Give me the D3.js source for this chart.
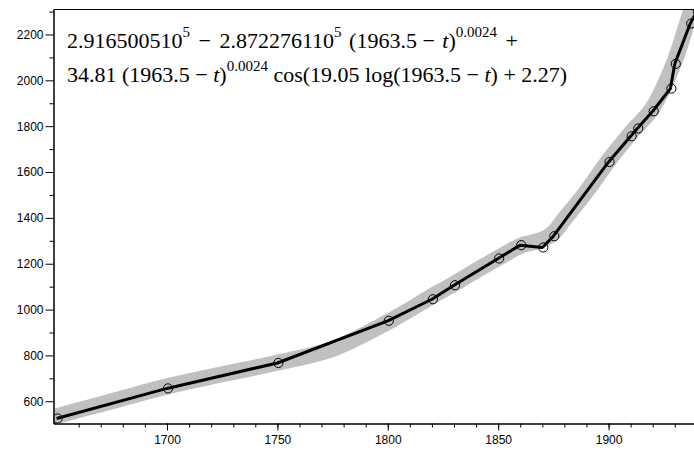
<!DOCTYPE html>
<html>
<head>
<meta charset="utf-8">
<script src="https://cdn.jsdelivr.net/npm/d3@7"></script>
<style>
  body { margin: 0; background: #fff; }
  svg { display: block; }
</style>
</head>
<body>
<svg id="chart" width="694" height="450"></svg>
<script>
'use strict';

var years = [1650, 1700, 1750, 1800, 1820, 1830, 1850, 1860, 1870, 1875,
             1900, 1910, 1913, 1920, 1928, 1930, 1937, 1940];
var population = [525, 656, 767, 951, 1045, 1106, 1223, 1281, 1271, 1320,
                  1644, 1756, 1790, 1865, 1964, 2072, 2248, 2300];

// Log-periodic fit (grey band)
var fitYears = [1645, 1650, 1675, 1700, 1725, 1750, 1775, 1800, 1810, 1820,
                1830, 1840, 1850, 1860, 1870, 1875, 1880, 1890, 1900, 1910,
                1920, 1930, 1937, 1942];
var fitPopulation = [520, 535, 600, 665, 718, 768, 828, 945, 1000, 1058,
                     1112, 1170, 1225, 1278, 1305, 1335, 1395, 1515, 1650, 1770,
                     1880, 2085, 2290, 2400];

// Tick values
var xMajorTicks = [1700, 1750, 1800, 1850, 1900];
var xMinorTicks = d3.range(1660, 1940, 10);
var yMajorTicks = [600, 800, 1000, 1200, 1400, 1600, 1800, 2000, 2200];
var yMinorTicks = [700, 900, 1100, 1300, 1500, 1700, 1900, 2100, 2300];

function drawChart() {

    var mLeft = 53.5,
        mRight = 694,
        mTop = 9.5,
        mBottom = 423.5;

    var svg = d3.select('#chart');

    var x = d3.scaleLinear().domain([1648.6, 1938.7]).range([mLeft, mRight]);
    var y = d3.scaleLinear().domain([503, 2309]).range([mBottom, mTop]);

    svg.append('defs').append('clipPath')
        .attr('id', 'plot-clip')
        .append('rect')
        .attr('x', mLeft)
        .attr('y', mTop)
        .attr('width', mRight - mLeft)
        .attr('height', mBottom - mTop);

    var plot = svg.append('g').attr('clip-path', 'url(#plot-clip)');

    // Grey fitted band
    var fitLine = d3.line()
        .x(function (d, i) { return x(fitYears[i]); })
        .y(function (d) { return y(d); })
        .curve(d3.curveCatmullRom);

    plot.append('path')
        .datum(fitPopulation)
        .attr('d', fitLine)
        .attr('fill', 'none')
        .attr('stroke', '#c0c0c0')
        .attr('stroke-width', 16)
        .attr('stroke-linejoin', 'round');

    // Data polyline
    var dataLine = d3.line()
        .x(function (d, i) { return x(years[i]); })
        .y(function (d) { return y(d); });

    plot.append('path')
        .datum(population)
        .attr('d', dataLine)
        .attr('fill', 'none')
        .attr('stroke', '#000')
        .attr('stroke-width', 3)
        .attr('stroke-linejoin', 'round');

    plot.selectAll('circle.pt')
        .data(population)
        .enter()
        .append('circle')
        .attr('class', 'pt')
        .attr('cx', function (d, i) { return x(years[i]) + 1; })
        .attr('cy', function (d) { return y(d); })
        .attr('r', 4.6)
        .attr('fill', 'none')
        .attr('stroke', '#000')
        .attr('stroke-width', 1);

    // Axes
    function styleAxis(g) {
        g.selectAll('text')
            .attr('font-family', '"Liberation Sans", Arial, sans-serif')
            .attr('font-size', '12px')
            .attr('fill', '#000');
        g.selectAll('line').attr('stroke', '#000');
        g.select('.domain').attr('stroke', '#000');
    }

    svg.append('g')
        .attr('transform', 'translate(0,' + mBottom + ')')
        .call(d3.axisBottom(x).tickValues(xMinorTicks).tickSize(4).tickSizeOuter(0).tickFormat(''))
        .call(styleAxis);

    svg.append('g')
        .attr('transform', 'translate(0,' + mBottom + ')')
        .call(d3.axisBottom(x).tickValues(xMajorTicks).tickSize(7).tickSizeOuter(0).tickPadding(5).tickFormat(d3.format('d')))
        .call(styleAxis);

    svg.append('g')
        .attr('transform', 'translate(' + mLeft + ',0)')
        .call(d3.axisLeft(y).tickValues(yMinorTicks).tickSize(4).tickSizeOuter(0).tickFormat(''))
        .call(styleAxis);

    svg.append('g')
        .attr('transform', 'translate(' + mLeft + ',0)')
        .call(d3.axisLeft(y).tickValues(yMajorTicks).tickSize(8).tickSizeOuter(0).tickPadding(2).tickFormat(d3.format('d')))
        .call(styleAxis);

    // Top frame line
    svg.append('line')
        .attr('x1', mLeft)
        .attr('x2', mRight)
        .attr('y1', mTop)
        .attr('y2', mTop)
        .attr('stroke', '#000');

    // Formula
    var formula = svg.append('g')
        .attr('font-family', '"Liberation Serif", "Times New Roman", serif')
        .attr('font-size', '22px')
        .attr('fill', '#000');

    function addLine(parts, yPos) {
        var t = formula.append('text').attr('x', 67).attr('y', yPos).attr('xml:space', 'preserve');
        parts.forEach(function (p) {
            var s = t.append('tspan').text(p.s);
            var dy = 0;
            if (p.sup) {
                s.attr('font-size', '15px');
                dy -= 11;
            }
            if (p.back) {
                dy += 11;
            }
            if (dy) {
                s.attr('dy', dy);
            }
            if (p.dx) {
                s.attr('dx', p.dx);
            }
            if (p.it) {
                s.attr('font-style', 'italic');
            }
        });
    }

    addLine([
        {s: '2.916500510'}, {s: '5', sup: true},
        {s: ' \u2212 ', back: true, dx: 3}, {s: '2.872276110', dx: 3}, {s: '5', sup: true},
        {s: ' (1963.5 \u2212 ', back: true, dx: 2}, {s: 't', it: true, dx: 2}, {s: ')'},
        {s: '0.0024', sup: true}, {s: ' +', back: true, dx: 3}
    ], 48);

    addLine([
        {s: '34.81 (1963.5 \u2212 '}, {s: 't', it: true}, {s: ')'},
        {s: '0.0024', sup: true},
        {s: ' cos(19.05 log(1963.5 \u2212 ', back: true}, {s: 't', it: true},
        {s: ') + 2.27)'}
    ], 82);
}

drawChart();
</script>
</body>
</html>
